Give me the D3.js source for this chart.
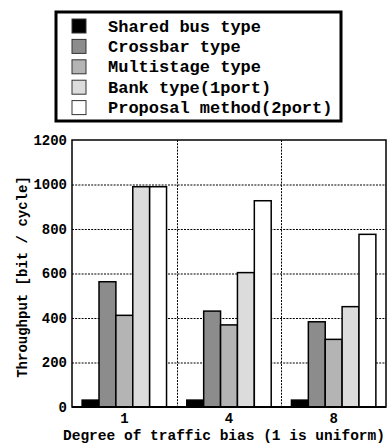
<!DOCTYPE html>
<html>
<head>
<meta charset="utf-8">
<script src="https://cdn.jsdelivr.net/npm/d3@7"></script>
<style>
  html, body { margin: 0; padding: 0; background: #fff; }
  svg { display: block; }
  text { font-family: "Courier New", "Nimbus Mono PS", "FreeMono", "Liberation Mono", "DejaVu Sans Mono", monospace; font-weight: bold; fill: #000; }
</style>
</head>
<body>
<svg id="chart" width="387" height="445"></svg>
<script>
// Traffic bias levels on the x axis
const groups = ["1", "4", "8"];

// Network types, in legend / bar order
const seriesNames = [
  "Shared bus type",
  "Crossbar type",
  "Multistage type",
  "Bank type(1port)",
  "Proposal method(2port)"
];
const seriesColors = ["#000000", "#8c8c8c", "#b4b4b4", "#dcdcdc", "#ffffff"];

// Throughput [bit / cycle] for each series, one value per traffic bias level
const sharedBus   = [31, 31, 31];
const crossbar    = [563, 431, 383];
const multistage  = [412, 369, 304];
const bank1port   = [990, 604, 451];
const proposal2p  = [990, 927, 776];
const seriesValues = [sharedBus, crossbar, multistage, bank1port, proposal2p];

const yTicks = [0, 200, 400, 600, 800, 1000, 1200];

const svg = d3.select("#chart");
const plot = { left: 72, right: 386, top: 140, bottom: 407 };

const x0 = d3.scaleBand().domain(groups).range([plot.left, plot.right]).padding(0);
const x1 = d3.scaleBand().domain(d3.range(seriesNames.length))
  .range([0, x0.bandwidth()]).paddingInner(0).paddingOuter(0.6);
const y = d3.scaleLinear().domain([0, 1200]).range([plot.bottom, plot.top]);

// Dotted grid lines
const grid = svg.append("g").attr("stroke", "#000").attr("stroke-width", 1)
  .attr("stroke-dasharray", "2,1.2");
grid.selectAll("line.h").data(yTicks.filter(t => t > 0 && t < 1200)).join("line")
  .attr("x1", plot.left).attr("x2", plot.right)
  .attr("y1", d => y(d) + 0.5).attr("y2", d => y(d) + 0.5);
grid.selectAll("line.v").data(groups.slice(1)).join("line")
  .attr("x1", d => Math.round(x0(d)) + 0.5).attr("x2", d => Math.round(x0(d)) + 0.5)
  .attr("y1", plot.top).attr("y2", plot.bottom);

// Bars
const rows = groups.map((g, gi) => seriesValues.map((vals, si) => ({ g, si, v: vals[gi] })));
svg.append("g").selectAll("g").data(rows).join("g")
  .attr("transform", d => `translate(${x0(d[0].g)},0)`)
  .selectAll("rect").data(d => d).join("rect")
  .attr("x", d => x1(d.si))
  .attr("width", x1.bandwidth())
  .attr("y", d => y(d.v))
  .attr("height", d => y(0) - y(d.v))
  .attr("fill", d => seriesColors[d.si])
  .attr("stroke", "#000")
  .attr("stroke-width", 1.5);

// Plot frame
svg.append("rect")
  .attr("x", plot.left).attr("y", plot.top)
  .attr("width", plot.right - plot.left).attr("height", plot.bottom - plot.top)
  .attr("fill", "none").attr("stroke", "#000").attr("stroke-width", 1.5);
svg.append("line")
  .attr("x1", plot.left).attr("x2", plot.right)
  .attr("y1", plot.bottom).attr("y2", plot.bottom)
  .attr("stroke", "#000").attr("stroke-width", 2);

// Y axis labels
const yAxis = svg.append("g").attr("transform", `translate(${plot.left},0)`)
  .call(d3.axisLeft(y).tickValues(yTicks).tickFormat(d3.format("d")).tickSize(0).tickPadding(5));
yAxis.select(".domain").remove();
yAxis.selectAll("text").style("font-size", "14px").attr("fill", "#000");

// X axis labels
const xAxis = svg.append("g").attr("transform", `translate(0,${plot.bottom})`)
  .call(d3.axisBottom(x0).tickSize(0).tickPadding(6));
xAxis.select(".domain").remove();
xAxis.selectAll("text").style("font-size", "14px").attr("fill", "#000");

// Axis titles
svg.append("text")
  .attr("x", 224).attr("y", 440)
  .attr("text-anchor", "middle")
  .style("font-size", "14.5px")
  .text("Degree of traffic bias (1 is uniform)");
svg.append("text")
  .attr("transform", "translate(26.5,277) rotate(-90)")
  .attr("text-anchor", "middle")
  .style("font-size", "14px")
  .text("Throughput [bit / cycle]");

// Legend
const legend = svg.append("g");
legend.append("rect")
  .attr("x", 56).attr("y", 12).attr("width", 285).attr("height", 109)
  .attr("fill", "#fff").attr("stroke", "#000").attr("stroke-width", 3);
const items = legend.selectAll("g.item").data(seriesNames).join("g")
  .attr("transform", (d, i) => `translate(0,${26 + i * 20.4})`);
items.append("rect")
  .attr("x", 72).attr("y", -7).attr("width", 14).attr("height", 14)
  .attr("fill", (d, i) => seriesColors[i])
  .attr("stroke", "#333").attr("stroke-width", 1);
items.append("text")
  .attr("x", 108).attr("y", 5.5)
  .style("font-size", "17px")
  .text(d => d);
</script>
</body>
</html>
